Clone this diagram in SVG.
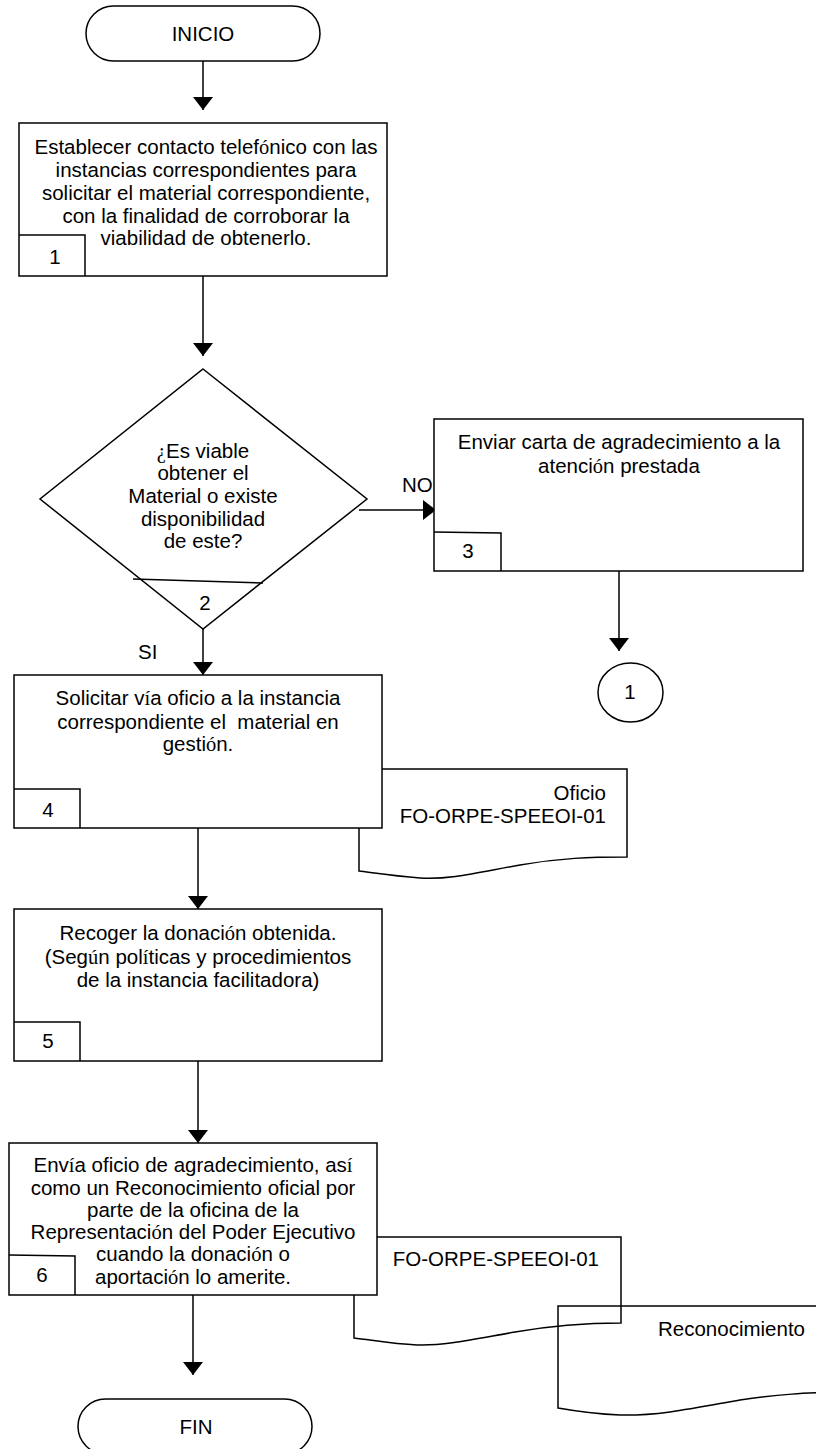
<svg xmlns="http://www.w3.org/2000/svg" width="816" height="1449" viewBox="0 0 816 1449">
  <defs>
    <marker id="arrow" markerUnits="userSpaceOnUse" markerWidth="14" markerHeight="20" refX="13" refY="10" orient="auto">
      <path d="M0,0 L13,10 L0,20 Z" fill="#000"/>
    </marker>
    <style>
      .shape { fill: #fff; stroke: #000; stroke-width: 1.5; }
      .doc { fill: none; stroke: #000; stroke-width: 1.5; }
      .line { fill: none; stroke: #000; stroke-width: 1.5; }
      .conn { fill: none; stroke: #000; stroke-width: 1.5; marker-end: url(#arrow); }
      text { font-family: "Liberation Sans", Arial, sans-serif; font-size: 20.5px; fill: #000; }
      .c { text-anchor: middle; }
      .e { text-anchor: end; }
      .acc { font-family: "Liberation Serif", "Times New Roman", serif; }
    </style>
  </defs>

  <rect width="816" height="1449" fill="#fff"/>

  <!-- Documents (drawn first so the process boxes cover their left edges) -->
  <g id="doc-oficio">
    <path class="doc" d="M359,769 H627 V857 C590,857 560,858 520,865 C480,872 450,880 420,878 C395,876 375,873 359,871 Z"/>
    <text class="e" x="606" y="800">Oficio</text>
    <text class="e" x="606" y="823">FO-ORPE-SPEEOI-01</text>
  </g>
  <g id="doc-fo">
    <path class="doc" d="M354,1237 H621 V1323 C585,1323 555,1325 515,1332 C475,1339 445,1346 417,1345 C392,1344 372,1340 354,1338 Z"/>
    <text class="e" x="599" y="1266">FO-ORPE-SPEEOI-01</text>
  </g>
  <g id="doc-reconocimiento">
    <path class="doc" d="M558,1306 H840 V1392 C805,1393 780,1394 740,1400 C700,1407 660,1416 620,1415 C595,1414 575,1411 558,1408 Z"/>
    <text x="658" y="1336">Reconocimiento</text>
  </g>

  <!-- Connectors -->
  <g id="connectors">
    <line class="conn" x1="203" y1="61" x2="203" y2="110"/>
    <line class="conn" x1="203" y1="276" x2="203" y2="356"/>
    <line class="conn" x1="359" y1="510" x2="436" y2="510"/>
    <line class="conn" x1="619" y1="571" x2="619" y2="651"/>
    <line class="conn" x1="203" y1="629" x2="203" y2="675"/>
    <line class="conn" x1="198" y1="828" x2="198" y2="909"/>
    <line class="conn" x1="198" y1="1061" x2="198" y2="1143"/>
    <line class="conn" x1="193" y1="1295" x2="193" y2="1375"/>
    <text x="402" y="492">NO</text>
    <text x="138" y="659">SI</text>
  </g>

  <!-- Start -->
  <g id="inicio">
    <rect class="shape" x="86" y="6" width="234" height="55" rx="27.5" ry="27.5"/>
    <text class="c" x="203" y="41">INICIO</text>
  </g>

  <!-- Step 1 -->
  <g id="step-1">
    <rect class="shape" x="19" y="123" width="368" height="153"/>
    <polyline class="line" points="19,235 85,235 85,276"/>
    <text class="c" x="206" y="154">Establecer contacto telef<tspan class="acc">ó</tspan>nico con las</text>
    <text class="c" x="206" y="177">instancias correspondientes para</text>
    <text class="c" x="206" y="200">solicitar el material correspondiente,</text>
    <text class="c" x="206" y="223">con la finalidad de corroborar la</text>
    <text class="c" x="206" y="245">viabilidad de obtenerlo.</text>
    <text class="c" x="55" y="264">1</text>
  </g>

  <!-- Decision 2 -->
  <g id="decision-2">
    <polygon class="shape" points="203,369 367,499 203,629 40,499"/>
    <line class="line" x1="133" y1="579" x2="263" y2="583"/>
    <text class="c" x="203" y="458"><tspan class="acc">¿</tspan>Es viable</text>
    <text class="c" x="203" y="480">obtener el</text>
    <text class="c" x="203" y="503">Material o existe</text>
    <text class="c" x="203" y="526">disponibilidad</text>
    <text class="c" x="203" y="548">de este?</text>
    <text class="c" x="205" y="610">2</text>
  </g>

  <!-- Step 3 -->
  <g id="step-3">
    <rect class="shape" x="434" y="419" width="369" height="152"/>
    <polyline class="line" points="434,532 501,533 501,571"/>
    <text class="c" x="619" y="449">Enviar carta de agradecimiento a la</text>
    <text class="c" x="619" y="473">atenci<tspan class="acc">ó</tspan>n prestada</text>
    <text class="c" x="468" y="558">3</text>
  </g>

  <!-- Connector 1 -->
  <g id="connector-1">
    <ellipse class="shape" cx="630.5" cy="692.5" rx="32.5" ry="29.5"/>
    <text class="c" x="630" y="699">1</text>
  </g>

  <!-- Step 4 -->
  <g id="step-4">
    <rect class="shape" x="14" y="675" width="368" height="153"/>
    <polyline class="line" points="14,789 80,789 80,828"/>
    <text class="c" x="198" y="705">Solicitar v<tspan class="acc">í</tspan>a oficio a la instancia</text>
    <text class="c" x="198" y="729">correspondiente el&#160; material en</text>
    <text class="c" x="198" y="751">gesti<tspan class="acc">ó</tspan>n.</text>
    <text class="c" x="48" y="817">4</text>
  </g>

  <!-- Step 5 -->
  <g id="step-5">
    <rect class="shape" x="14" y="909" width="368" height="152"/>
    <polyline class="line" points="14,1022 80,1022 80,1061"/>
    <text class="c" x="198" y="940">Recoger la donaci<tspan class="acc">ó</tspan>n obtenida.</text>
    <text class="c" x="198" y="964">(Seg<tspan class="acc">ú</tspan>n pol<tspan class="acc">í</tspan>ticas y procedimientos</text>
    <text class="c" x="198" y="987">de la instancia facilitadora)</text>
    <text class="c" x="48" y="1048">5</text>
  </g>

  <!-- Step 6 -->
  <g id="step-6">
    <rect class="shape" x="9" y="1143" width="368" height="152"/>
    <polyline class="line" points="9,1255 75,1256 75,1295"/>
    <text class="c" x="193" y="1172">Env<tspan class="acc">í</tspan>a oficio de agradecimiento, as<tspan class="acc">í</tspan></text>
    <text class="c" x="193" y="1195">como un Reconocimiento oficial por</text>
    <text class="c" x="193" y="1217">parte de la oficina de la</text>
    <text class="c" x="193" y="1239">Representaci<tspan class="acc">ó</tspan>n del Poder Ejecutivo</text>
    <text class="c" x="193" y="1261">cuando la donaci<tspan class="acc">ó</tspan>n o</text>
    <text class="c" x="193" y="1284">aportaci<tspan class="acc">ó</tspan>n lo amerite.</text>
    <text class="c" x="42" y="1282">6</text>
  </g>

  <!-- End -->
  <g id="fin">
    <rect class="shape" x="78" y="1399" width="234" height="55" rx="27.5" ry="27.5"/>
    <text class="c" x="196" y="1434">FIN</text>
  </g>
</svg>
